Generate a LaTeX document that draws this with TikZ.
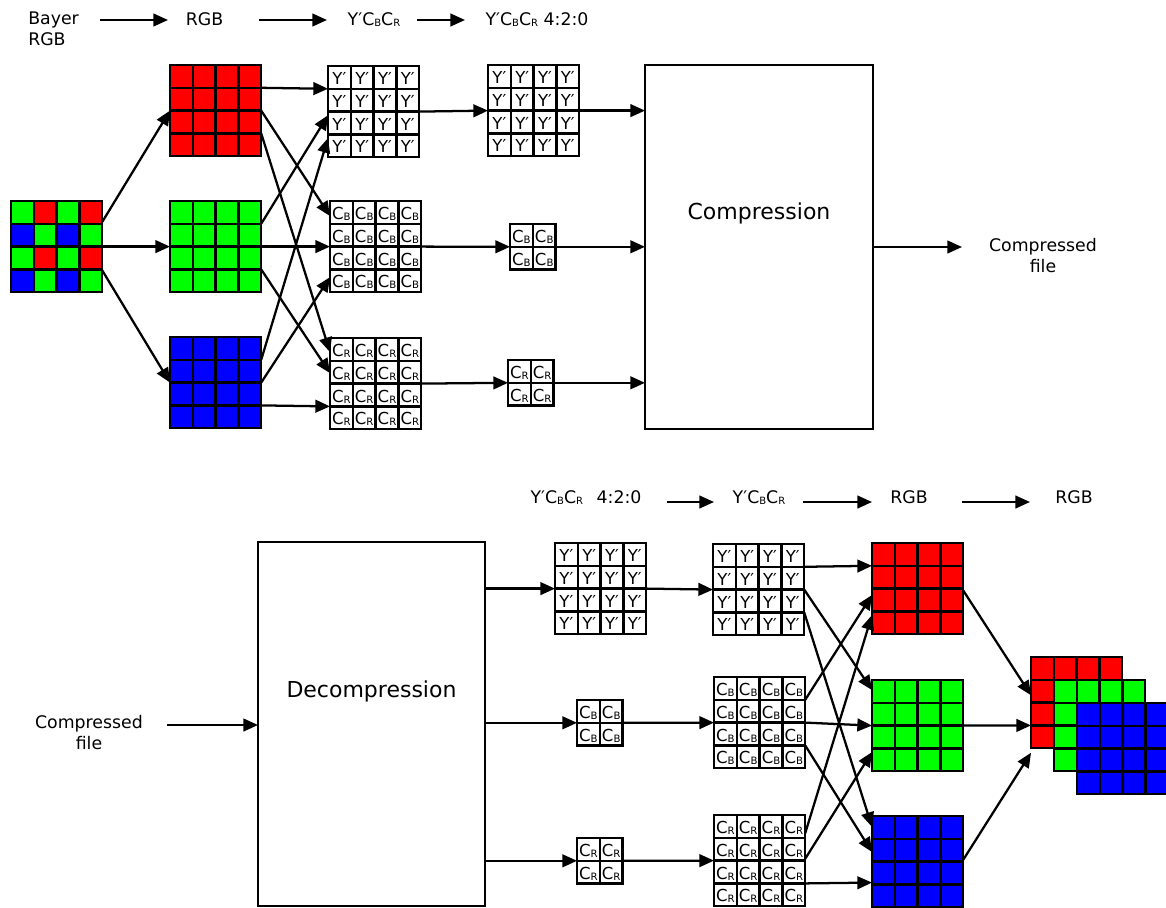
\documentclass[tikz,border=0pt]{standalone}
\usepackage{fontspec}
\setmainfont{DejaVu Sans}
\usetikzlibrary{arrows.meta,calc}

\definecolor{pxR}{RGB}{255,0,0}
\definecolor{pxG}{RGB}{0,255,0}
\definecolor{pxB}{RGB}{0,0,255}

% subscripts for the labels and for the cell texts
\newcommand\lsub[1]{\raisebox{-0.8pt}{\fontsize{7.5}{8}\selectfont #1}}
\newcommand\csub[1]{\raisebox{-0.7pt}{\fontsize{7.6}{8}\selectfont #1}}
\newcommand\ycc{Y′C\lsub{B}C\lsub{R}}

% cell size in drawing units and in pt
\def\cu{22.8}
\def\cw{17.1pt}

\tikzset{
  link/.style={line width=1.7pt, -{Triangle[length=11pt,width=9.5pt]}},
  gridline/.style={draw=black, line width=1.7pt},
  frame/.style={draw=black, line width=1.7pt, inner sep=0pt, outer sep=0pt},
  lbl/.style={font=\fontsize{13}{15.6}\selectfont, inner sep=0pt},
  big/.style={font=\fontsize{16.5}{20}\selectfont, inner sep=0pt},
  celltxt/.style={font=\fontsize{12.4}{14}\selectfont, inner sep=0pt, anchor=base},
}

% square grid of n x n cells filled with one colour
\newcommand\colgrid[5]{% name, left, top, n, colour
  \pgfmathtruncatemacro\gl{#4-1}
  \foreach \i in {0,...,\gl}{
    \foreach \j in {0,...,\gl}{
      \draw[gridline, fill=#5] ({#2+\i*\cu},{#3+\j*\cu}) rectangle ++(\cu,\cu);
    }
  }
  \node[frame, minimum width={#4*\cw}, minimum height={#4*\cw}, anchor=north west] (#1) at (#2,#3) {};
}

% square grid of n x n white cells, each holding the same text
\newcommand\txtgrid[5]{% name, left, top, n, text
  \pgfmathtruncatemacro\gl{#4-1}
  \foreach \i in {0,...,\gl}{
    \foreach \j in {0,...,\gl}{
      \draw[gridline, fill=white] ({#2+\i*\cu},{#3+\j*\cu}) rectangle ++(\cu,\cu);
      \node[celltxt] (#1-\i-\j) at ({#2+\i*\cu+\cu/2},{#3+\j*\cu+\cu-4.3}) {#5};
    }
  }
  \node[frame, minimum width={#4*\cw}, minimum height={#4*\cw}, anchor=north west] (#1) at (#2,#3) {};
}

\begin{document}
\begin{tikzpicture}[x=0.75pt, y=-0.75pt, line join=miter]
\useasboundingbox (0,0) rectangle (1166,907);

% ---------------- encoding chain ----------------
\node[lbl, anchor=north west, align=left] (bayer-lbl) at (28,11.7) {Bayer\\RGB};
\node[lbl, anchor=base] (rgb-lbl) at (204.5,25.5) {RGB};
\node[lbl, anchor=base] (ycc-lbl) at (374,25.5) {\ycc};
\node[lbl, anchor=base] (sub-lbl) at (537,25.5) {\ycc{} 4:2:0};
\coordinate (t1s) at (100,20);  \coordinate (t1e) at (168,20);
\coordinate (t2s) at (259,20);  \coordinate (t2e) at (327,20);
\coordinate (t3s) at (417,20);  \coordinate (t3e) at (465,20);
\draw[link] (t1s) -- (t1e);
\draw[link] (t2s) -- (t2e);
\draw[link] (t3s) -- (t3e);

% Bayer mosaic
\foreach \c [count=\k from 0] in {G,R,G,R,B,G,B,G,G,R,G,R,B,G,B,G}{
  \pgfmathtruncatemacro\ci{mod(\k,4)}
  \pgfmathtruncatemacro\cj{int(\k/4)}
  \draw[gridline, fill=px\c] ({11+\ci*\cu},{201+\cj*\cu}) rectangle ++(\cu,\cu);
}
\node[frame, minimum width={4*\cw}, minimum height={4*\cw}, anchor=north west] (bay) at (11,201) {};

% colour planes
\colgrid{red}{170}{65}{4}{pxR}
\colgrid{grn}{170}{201}{4}{pxG}
\colgrid{blu}{170}{337}{4}{pxB}

% luma / chroma planes
\txtgrid{y1}{328}{66}{4}{Y′}
\txtgrid{cb1}{330}{201}{4}{C\csub{B}}
\txtgrid{cr1}{330}{338}{4}{C\csub{R}}
\txtgrid{y2}{488}{65}{4}{Y′}
\txtgrid{cb2}{510}{224}{2}{C\csub{B}}
\txtgrid{cr2}{508}{360}{2}{C\csub{R}}

% compression block
\node[frame, minimum width=171pt, minimum height=273pt, anchor=north west] (comp) at (645,65) {};
\node[big, anchor=base] (comp-txt) at (759,219) {Compression};
\node[lbl, anchor=north, align=center] (out-lbl) at (1043,238.5) {Compressed\\file};
\coordinate (out-end) at (962,247);

% demosaicing
\draw[link] ($(bay.north east)!0.23!(bay.south east)$) -- (red.west);
\draw[link] (bay.east) -- (grn.west);
\draw[link] ($(bay.north east)!0.76!(bay.south east)$) -- (blu.west);

% colour conversion
\draw[link] ($(red.north east)!0.25!(red.south east)$) -- ($(y1.north west)!0.25!(y1.south west)$);
\draw[link] (red.east) -- ($(cb1.north west)!0.165!(cb1.south west)$);
\draw[link] ($(red.north east)!0.75!(red.south east)$) -- ($(cr1.north west)!0.155!(cr1.south west)$);
\draw[link] ($(grn.north east)!0.25!(grn.south east)$) -- ($(y1.north west)!0.54!(y1.south west)$);
\draw[link] (grn.east) -- (cb1.west);
\draw[link] ($(grn.north east)!0.75!(grn.south east)$) -- ($(cr1.north west)!0.385!(cr1.south west)$);
\draw[link] ($(blu.north east)!0.25!(blu.south east)$) -- ($(y1.north west)!0.79!(y1.south west)$);
\draw[link] (blu.east) -- ($(cb1.north west)!0.835!(cb1.south west)$);
\draw[link] ($(blu.north east)!0.75!(blu.south east)$) -- ($(cr1.north west)!0.75!(cr1.south west)$);

% subsampling and compression
\draw[link] (y1.east) -- (y2.west);
\draw[link] (cb1.east) -- (cb2.west);
\draw[link] (cr1.east) -- (cr2.west);
\draw[link] (y2.east) -- (y2.east -| comp.west);
\draw[link] (cb2.east) -- (cb2.east -| comp.west);
\draw[link] (cr2.east) -- (cr2.east -| comp.west);
\draw[link] (comp.east) -- (out-end);

% ---------------- decoding chain ----------------
\node[lbl, anchor=base] (sub-lbl2) at (586,503) {\ycc\hspace{0.78em}4:2:0};
\node[lbl, anchor=base] (ycc-lbl2) at (759,503) {\ycc};
\node[lbl, anchor=base] (rgb-lbl2) at (909,503) {RGB};
\node[lbl, anchor=base] (rgb-lbl3) at (1074,503) {RGB};
\coordinate (b1s) at (667,502);  \coordinate (b1e) at (714,502);
\coordinate (b2s) at (803,502);  \coordinate (b2e) at (872,502);
\coordinate (b3s) at (962,502);  \coordinate (b3e) at (1030,502);
\draw[link] (b1s) -- (b1e);
\draw[link] (b2s) -- (b2e);
\draw[link] (b3s) -- (b3e);

% decompression block
\node[lbl, anchor=north, align=center] (in-lbl) at (89,715) {Compressed\\file};
\coordinate (in-start) at (167,725);
\node[frame, minimum width=170.25pt, minimum height=273pt, anchor=north west] (dec) at (258,542) {};
\node[big, anchor=base] (dec-txt) at (371.5,697) {Decompression};

\txtgrid{y3}{555}{543}{4}{Y′}
\txtgrid{cb3}{577}{700}{2}{C\csub{B}}
\txtgrid{cr3}{577}{838}{2}{C\csub{R}}
\txtgrid{y4}{713}{544}{4}{Y′}
\txtgrid{cb4}{714}{677}{4}{C\csub{B}}
\txtgrid{cr4}{714}{815}{4}{C\csub{R}}

\colgrid{r5}{872}{543}{4}{pxR}
\colgrid{g5}{872}{680}{4}{pxG}
\colgrid{b5}{872}{816}{4}{pxB}

% recombined image: three stacked planes
\colgrid{sr}{1031}{657}{4}{pxR}
\colgrid{sg}{1054}{680}{4}{pxG}
\colgrid{sb}{1077}{703}{4}{pxB}

\draw[link] (in-start) -- (in-start -| dec.west);
\draw[link] (y3.west -| dec.east) -- (y3.west);
\draw[link] (cb3.west -| dec.east) -- (cb3.west);
\draw[link] (cr3.west -| dec.east) -- (cr3.west);

% upsampling
\draw[link] (y3.east) -- (y4.west);
\draw[link] (cb3.east) -- (cb4.west);
\draw[link] (cr3.east) -- (cr4.west);

% colour conversion back to RGB
\draw[link] ($(y4.north east)!0.25!(y4.south east)$) -- ($(r5.north west)!0.25!(r5.south west)$);
\draw[link] (y4.east) -- ($(g5.north west)!0.11!(g5.south west)$);
\draw[link] ($(y4.north east)!0.75!(y4.south east)$) -- ($(b5.north west)!0.12!(b5.south west)$);
\draw[link] ($(cb4.north east)!0.25!(cb4.south east)$) -- ($(r5.north west)!0.57!(r5.south west)$);
\draw[link] (cb4.east) -- (g5.west);
\draw[link] ($(cb4.north east)!0.75!(cb4.south east)$) -- ($(b5.north west)!0.395!(b5.south west)$);
\draw[link] ($(cr4.north east)!0.2!(cr4.south east)$) -- ($(r5.north west)!0.79!(r5.south west)$);
\draw[link] ($(cr4.north east)!0.48!(cr4.south east)$) -- ($(g5.north west)!0.79!(g5.south west)$);
\draw[link] ($(cr4.north east)!0.75!(cr4.south east)$) -- ($(b5.north west)!0.73!(b5.south west)$);

% merging the planes
\draw[link] ($(r5.north east)!0.52!(r5.south east)$) -- ($(sr.north west)!0.42!(sr.south west)$);
\draw[link] (g5.east) -- ($(sr.north west)!0.75!(sr.south west)$);
\draw[link] ($(b5.north east)!0.48!(b5.south east)$) -- ($(sr.north west)!1.05!(sr.south west)$);
\end{tikzpicture}
\end{document}
